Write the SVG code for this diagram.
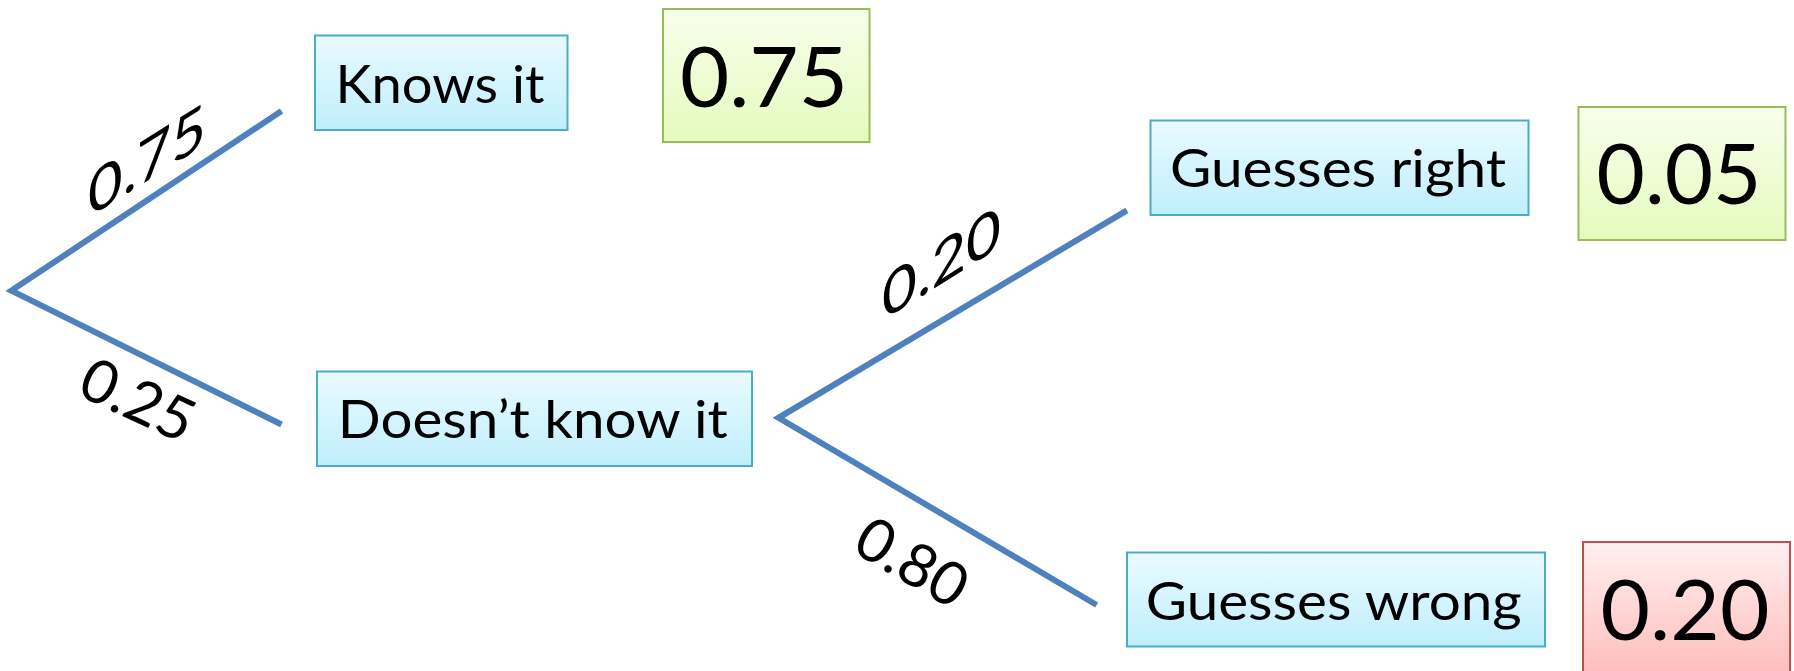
<svg xmlns="http://www.w3.org/2000/svg" width="1794" height="671" viewBox="0 0 1794 671">
<defs>
<linearGradient id="gBlue" x1="0" y1="0" x2="0" y2="1"><stop offset="0" stop-color="#eafaff"/><stop offset="1" stop-color="#bfeffc"/></linearGradient>
<linearGradient id="gGreen" x1="0" y1="0" x2="0" y2="1"><stop offset="0" stop-color="#f8feec"/><stop offset="1" stop-color="#e5fbbd"/></linearGradient>
<linearGradient id="gRed" x1="0" y1="0" x2="0" y2="1"><stop offset="0" stop-color="#fff0f0"/><stop offset="1" stop-color="#ffbcbc"/></linearGradient>
</defs>
<style>
.blue{fill:url(#gBlue);stroke:#4bacc6;stroke-width:2}
.green{fill:url(#gGreen);stroke:#9bbb59;stroke-width:2}
.red{fill:url(#gRed);stroke:#c0504d;stroke-width:2}
text{font-family:Lato,"Open Sans","Liberation Sans",sans-serif;fill:#000}
.lbl{font-size:52px}
.big{font-size:83px}
.edge{font-size:60px}
.conn{fill:none;stroke:#4f81bd;stroke-width:6;stroke-linejoin:miter}
</style>
<rect width="1794" height="671" fill="#fff"/>
<g id="connectors">
<path class="conn" d="M281.5,111 L11.4,290.6 L281.5,424.5"/>
<path class="conn" d="M1127,210.3 L778.5,417.8 L1096.7,605"/>
</g>
<g id="edge-labels">
<text class="edge" textLength="118" lengthAdjust="spacingAndGlyphs" transform="translate(88,218) skewY(-32)">0.75</text>
<text class="edge" text-anchor="middle" transform="translate(129,419) rotate(25)">0.25</text>
<text class="edge" textLength="119" lengthAdjust="spacingAndGlyphs" transform="translate(882,321) skewY(-32)">0.20</text>
<text class="edge" text-anchor="middle" transform="translate(901.5,580.5) rotate(30)">0.80</text>
</g>
<g id="knows">
<rect class="blue" x="315" y="35.5" width="252.5" height="94.5"/>
<text class="lbl" x="335.5" y="102.7" textLength="209" lengthAdjust="spacingAndGlyphs">Knows it</text>
</g>
<g id="knows-result">
<rect class="green" x="663" y="9" width="206.5" height="133"/>
<text class="big" x="680" y="106.7" textLength="168" lengthAdjust="spacingAndGlyphs">0.75</text>
</g>
<g id="doesnt">
<rect class="blue" x="317" y="371.5" width="435" height="94.5"/>
<text class="lbl" x="337.8" y="437.7" textLength="390" lengthAdjust="spacingAndGlyphs">Doesn’t know it</text>
</g>
<g id="right">
<rect class="blue" x="1150.5" y="120.5" width="378" height="94.5"/>
<text class="lbl" x="1170" y="187.4" textLength="336" lengthAdjust="spacingAndGlyphs">Guesses right</text>
</g>
<g id="right-result">
<rect class="green" x="1578.5" y="107" width="207" height="133"/>
<text class="big" x="1596.5" y="203.5" textLength="165" lengthAdjust="spacingAndGlyphs">0.05</text>
</g>
<g id="wrong">
<rect class="blue" x="1127" y="552.5" width="418" height="94"/>
<text class="lbl" x="1145.8" y="619.5" textLength="376" lengthAdjust="spacingAndGlyphs">Guesses wrong</text>
</g>
<g id="wrong-result">
<rect class="red" x="1583" y="542" width="207" height="133"/>
<text class="big" x="1600.5" y="639.5" textLength="169" lengthAdjust="spacingAndGlyphs">0.20</text>
</g>
</svg>
